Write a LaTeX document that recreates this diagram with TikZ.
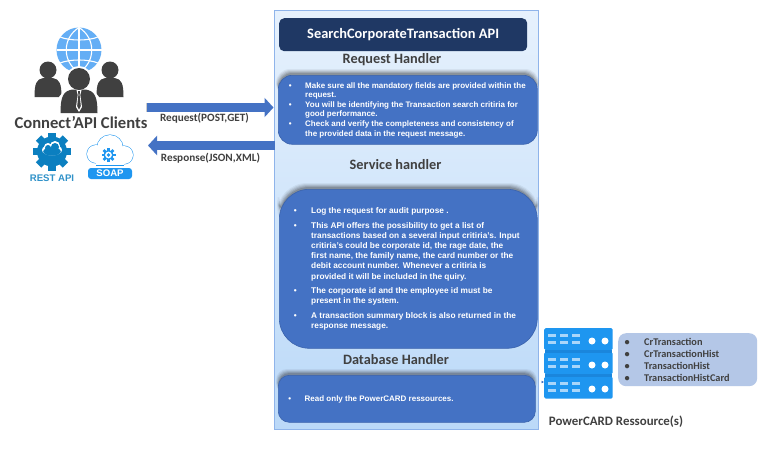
\documentclass[tikz,border=0pt]{standalone}
\usepackage{fontspec}
\usetikzlibrary{arrows.meta,calc}
\setmainfont{Liberation Sans}
\newfontfamily\carl{Carlito}
\definecolor{boxblue}{HTML}{4472C4}
\definecolor{boxedge}{HTML}{3A62AC}
\definecolor{navy}{HTML}{1F3864}
\definecolor{ink}{HTML}{404040}
\definecolor{sky}{HTML}{1E96F0}
\definecolor{skydark}{HTML}{1A86DC}
\definecolor{skylight}{HTML}{A9D6FA}
\definecolor{globeblue}{HTML}{64AEF5}
\definecolor{listbg}{HTML}{B4C7E7}
\definecolor{gearblue}{HTML}{0B7FC0}
\definecolor{arrowblue}{HTML}{4472C4}
\definecolor{paneltop}{HTML}{E6F1FD}
\definecolor{panelbot}{HTML}{BBD9F8}
\definecolor{paneledge}{HTML}{8FB4EA}
\newcommand{\bul}{\makebox[0pt][r]{•\hspace{13.5pt}}}
\newcommand{\bulb}{\makebox[0pt][r]{•\hspace{14.5pt}}}
\tikzset{
  x=1pt,y=-1pt,
  heading/.style={font=\carl\bfseries\fontsize{14.3}{16}\selectfont,text=ink,inner sep=0pt},
  bluebox/.style={fill=boxblue,draw=boxedge,line width=.6pt,rounded corners=#1},
  body/.style={font=\bfseries\fontsize{8}{9.6}\selectfont,text=white,align=left,anchor=west,inner sep=0pt},
  bodyb/.style={font=\bfseries\fontsize{8.3}{10.2}\selectfont,text=white,align=left,anchor=west,inner sep=0pt},
  flow/.style={draw=arrowblue,line width=9pt,-{Triangle[length=9pt,width=19pt]}},
  flowlabel/.style={font=\carl\bfseries\fontsize{11.2}{13}\selectfont,text=ink,inner sep=0pt},
  listitem/.style={font=\carl\bfseries\fontsize{10.3}{12}\selectfont,text=ink,anchor=west,inner sep=0pt},
  srv/.style={fill=sky,rounded corners=1.5pt,minimum width=68.5pt,minimum height=22pt,inner sep=0pt}
}
\newcommand{\shadowbox}[5]{% x1 y1 x2 y2 radius (bare number)
  \foreach \k/\o in {5/.05,4/.07,3/.09,2/.11,1/.13}{
    \fill[black,opacity=\o,rounded corners=#5 pt] (#1+1-\k*.6,#2-1-\k) rectangle (#3-1+\k*.6,#2+#5+8);
  }
}
\newcommand{\personshape}[5]{% cx, headcy, head r, body half width, body bottom
  \fill[ink] (#1,#2) circle (#3);
  \fill[ink] (#1-#4,#5) .. controls (#1-#4,#2+#3+.35*#4) and (#1-.85*#4,#2+#3+.05*#4) .. (#1-.35*#4,#2+#3-.5)
     -- (#1+.35*#4,#2+#3-.5) .. controls (#1+.85*#4,#2+#3+.05*#4) and (#1+#4,#2+#3+.35*#4) .. (#1+#4,#5) -- cycle;
}
\newcommand{\gearshape}[5]{% cx cy outer inner colour
  \fill[#5] (#1,#2) circle (#4);
  \foreach \a in {0,45,...,315}{
    \fill[#5,rotate around={\a:(#1,#2)}] (#1-.2*#3,#2-#3) rectangle (#1+.2*#3,#2-#4+1);
  }
}
\begin{document}
\begin{tikzpicture}
\useasboundingbox (0,0) rectangle (760,450);
\fill[white] (0,0) rectangle (760,450);

% central panel
\node[anchor=north west,minimum width=263.5pt,minimum height=418.5pt,inner sep=0pt,
      top color=paneltop,bottom color=panelbot] (panel) at (274.5,10.5) {};
\draw[paneledge,line width=.8pt] (panel.north west) rectangle (panel.south east);

\node[fill=navy,rounded corners=5pt,anchor=north west,minimum width=248pt,minimum height=33pt,inner sep=0pt,
      font=\carl\bfseries\fontsize{14.4}{16}\selectfont,text=white] (title) at (279,18) {SearchCorporateTransaction API};

\node[heading] (reqhead) at (392,59.5) {Request Handler};
\node[heading] (svchead) at (395.5,164.5) {Service handler};
\node[heading] (dbhead) at (396,360) {Database Handler};

% handlers
\shadowbox{278}{75}{537}{144}{14}
\node[bluebox=14pt,anchor=north west,minimum width=259pt,minimum height=69pt,inner sep=0pt] (reqbox) at (278,75) {};
\node[body] (reqtext) at (305,110) {\bul Make sure all the mandatory fields are provided within the\\
request.\\
\bul You will be identifying the Transaction search critiria for\\
good performance.\\
\bul Check and verify the completeness and consistency of\\
the provided data in the request message.};

\shadowbox{279}{189}{537}{348}{30}
\node[bluebox=30pt,anchor=north west,minimum width=258pt,minimum height=159pt,inner sep=0pt] (svcbox) at (279,189) {};
\node[bodyb] (svc1) at (311,211) {\bulb Log the request for audit purpose .};
\node[bodyb] (svc2) at (311,251.5) {\bulb This API offers the possibility to get a list of\\
transactions based on a several input critiria’s. Input\\
critiria’s could be corporate id, the rage date, the\\
first name, the family name, the card number or the\\
debit account number. Whenever a critiria is\\
provided it will be included in the quiry.};
\node[bodyb] (svc3) at (311,296.5) {\bulb The corporate id and the employee id must be\\
present in the system.};
\node[bodyb] (svc4) at (311,321) {\bulb A transaction summary block is also returned in the\\
response message.};

\shadowbox{278}{375}{535}{422}{11}
\node[bluebox=11pt,anchor=north west,minimum width=257pt,minimum height=47pt,inner sep=0pt] (dbbox) at (278,375) {};
\node[body] (dbtext) at (304.5,399) {\bul Read only the PowerCARD ressources.};

% clients icon
\fill[globeblue] (79,50) circle (22.5);
\begin{scope}
  \draw[white,line width=1.1pt] (79,27.5) -- (79,72.5);
  \draw[white,line width=1.1pt] (56.5,50) -- (101.5,50);
  \draw[white,line width=1.1pt] (79,27.5) .. controls (62,38) and (62,62) .. (79,72.5);
  \draw[white,line width=1.1pt] (79,27.5) .. controls (96,38) and (96,62) .. (79,72.5);
  \draw[white,line width=1.1pt] (60,37) .. controls (70,41) and (88,41) .. (98,37);
  \draw[white,line width=1.1pt] (60,63) .. controls (70,59) and (88,59) .. (98,63);
\end{scope}
\fill[white] (48,70) circle (10);
\fill[white] (110,70) circle (10);
\personshape{48}{70}{8.5}{13.5}{97}
\personshape{110}{70}{8.5}{13.5}{97}
\fill[white] (79,79) circle (13);
\fill[white] (59,114) -- (59,97) .. controls (62,91) and (70,88) .. (79,87) .. controls (88,88) and (96,91) .. (99,97) -- (99,114) -- cycle;
\personshape{79}{79}{11}{18.5}{113}
\fill[white] (76.5,90) -- (81.5,90) -- (80.3,95) -- (82,107) -- (79,112) -- (76,107) -- (77.7,95) -- cycle;
\fill[ink] (78,91) -- (80,91) -- (79.6,95) -- (80.8,106) -- (79,109.5) -- (77.2,106) -- (78.4,95) -- cycle;

\node[font=\carl\bfseries\fontsize{16.6}{20}\selectfont,text=ink,inner sep=0pt] (clients) at (81,123) {Connect’API Clients};

% REST icon
\gearshape{52}{151.5}{19}{15}{gearblue}
\fill[white] (52,150) ellipse (10 and 5.5);
\fill[white] (48,147) circle (4);
\fill[white] (55,146) circle (5);
\fill[gearblue] (52,151.5) ellipse (8.8 and 4.2);
\fill[gearblue] (48,148) circle (3);
\fill[gearblue] (55,147) circle (4);
\node[font=\bfseries\fontsize{9.6}{11}\selectfont,text=gearblue!85!white,inner sep=0pt] (rest) at (52,178) {REST API};

% SOAP icon
\draw[sky,line width=1pt] (96,154) circle (9);
\draw[sky,line width=1pt] (124,155) circle (9);
\draw[sky,line width=1pt] (110,148) circle (13);
\draw[sky,line width=1pt] (96,165) -- (124,165);
\fill[white] (96,154) circle (9);
\fill[white] (124,155) circle (9);
\fill[white] (110,148) circle (13);
\fill[white] (96,155) rectangle (124,165);
\gearshape{108.5}{155}{7}{5}{sky}
\fill[white] (108.5,155) circle (3.4);
\fill[sky] (108.5,155) circle (1.8);
\node[fill=sky,rounded corners=3pt,minimum width=44pt,minimum height=11pt,inner sep=0pt,
      font=\bfseries\fontsize{9.6}{11}\selectfont,text=white] (soap) at (110,173.5) {SOAP};

% flows
\coordinate (reqstart) at (147,107.5);
\coordinate (reqend) at ([xshift=-1pt]panel.west |- reqstart);
\coordinate (respend) at (148,145.5);
\coordinate (respstart) at (panel.west |- respend);
\fill[black,opacity=.2] (145.5,103) rectangle (148,112);
\draw[flow] (reqstart) -- (reqend);
\draw[flow] (respstart) -- (respend);
\node[flowlabel] (reqlabel) at (204.5,118.5) {Request(POST,GET)};
\node[flowlabel] (resplabel) at (210.5,158.5) {Response(JSON,XML)};

% servers
\coordinate (dbtick) at (541.5,382);
\node[srv,anchor=north west] (srvtop) at (544,328) {};
\node[srv,anchor=north west] (srvmid) at (544,352) {};
\node[srv,anchor=north west] (srvbot) at (544,376.5) {};
\draw[boxblue,line width=.8pt,-{Latex[length=2.5pt,width=3pt]}] (dbtick) -- (srvbot.west |- dbtick);
\fill[skydark] (545,349.5) rectangle (612,352.5);
\fill[skydark] (545,374) rectangle (612,377);
\foreach \s in {335,359,383}{
  \foreach \xa in {548,560,572}{
    \fill[skylight] (\xa,\s-1.5) rectangle (\xa+8,\s+1.5);
    \fill[skylight] (\xa,\s+6) rectangle (\xa+8,\s+9);
  }
  \fill[white] (592,\s+6) circle (3.5);
  \fill[white] (605,\s+6) circle (3.5);
}

% list
\node[fill=listbg,rounded corners=8pt,anchor=north west,minimum width=139pt,minimum height=53pt,inner sep=0pt] (listbox) at (618,333) {};
\node[listitem] (it1) at (644,341.5) {\makebox[0pt][r]{•\hspace{14.5pt}}CrTransaction};
\node[listitem] (it2) at (644,353.5) {\makebox[0pt][r]{•\hspace{14.5pt}}CrTransactionHist};
\node[listitem] (it3) at (644,366) {\makebox[0pt][r]{•\hspace{14.5pt}}TransactionHist};
\node[listitem] (it4) at (644,378) {\makebox[0pt][r]{•\hspace{14.5pt}}TransactionHistCard};

\node[font=\carl\bfseries\fontsize{12.9}{14}\selectfont,text=ink,inner sep=0pt] (reslabel) at (616,422) {PowerCARD Ressource(s)};
\end{tikzpicture}
\end{document}
